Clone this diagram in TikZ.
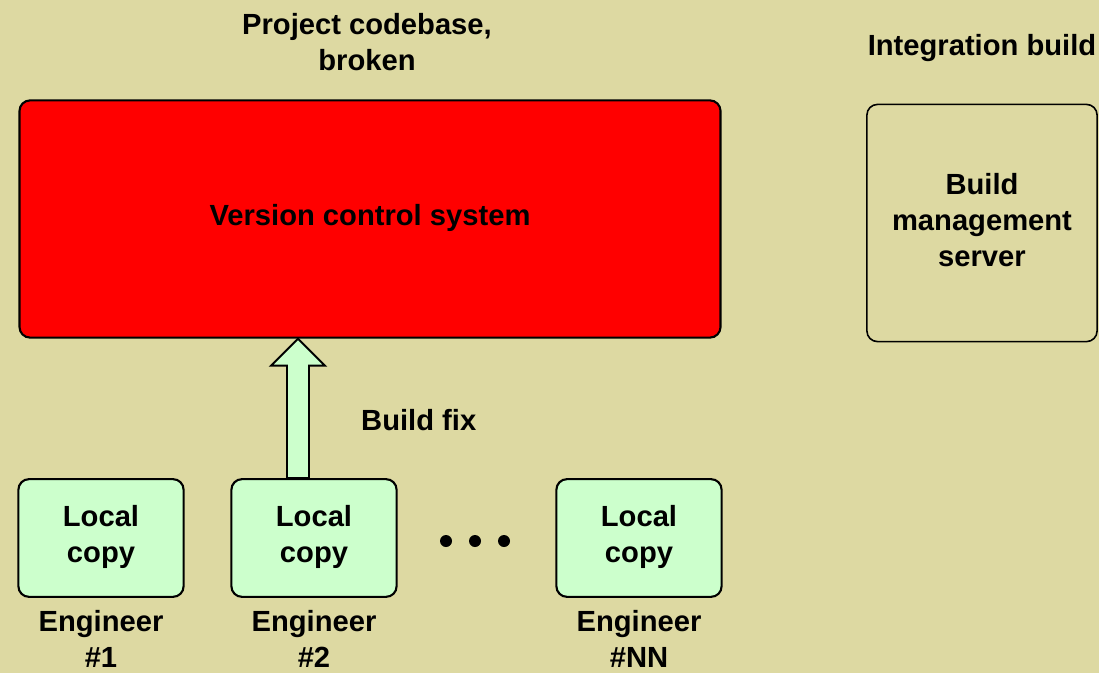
\documentclass[tikz,border=0pt]{standalone}
\usepackage{fontspec}
\setmainfont{Liberation Sans}
\usepackage{tikz}
\usetikzlibrary{calc}

\definecolor{paper}{RGB}{221,217,162}
\definecolor{copygreen}{RGB}{204,255,204}
\definecolor{vcsred}{RGB}{255,0,0}

\tikzset{
  lbl/.style={font=\fontsize{16.6}{20.4}\selectfont\bfseries, align=center, text=black},
  box/.style={draw=black, line width=1.2pt, rounded corners=6pt, inner sep=0pt},
  copybox/.style={box, fill=copygreen, minimum width=94pt, minimum height=67pt},
  fixarrow/.style={draw=black, line width=1.1pt, fill=copygreen, line join=miter}
}

\begin{document}
\begin{tikzpicture}[x=0.02cm, y=-0.02cm]
    % Background and page size
    \fill[paper] (0,0) rectangle (1099,673);
    \useasboundingbox (0,0) rectangle (1099,673);

    % Set the size of the dots
    \newcommand{\dotsize}{6}

    % Codebase on top
    \node [lbl] (title) at (367,42) {Project codebase,\\broken};
    \node [box, fill=vcsred, minimum width=399pt, minimum height=135pt] (vcs) at (370,219) {};
    \node [lbl] (vcslbl) at (370,218) {Version control system};

    % Integration build on the right
    \node [lbl] (intlbl) at (982,48) {Integration build};
    \node [box, line width=0.9pt, minimum width=131pt, minimum height=135pt] (bms) at (982,223) {};
    \node [lbl] (bmslbl) at (982,220) {Build\\management\\server};

    % Local copies of the engineers
    \foreach \x/\n/\eng in {101/1/\#1, 314/2/\#2, 639/3/\#NN}
    {
      \node [copybox] (l\n) at (\x,538) {};
      \node [lbl] (c\n) at (\x,537) {Local\\copy};
      \node [lbl, inner sep=1pt] (e\n) at (\x,639) {Engineer\\\eng};
    }

    % Dots between the copies
    \foreach \x [count=\i] in {446,475,504}
      \fill (\x,541) circle (\dotsize) coordinate (d\i);

    % Build fix arrow
    \coordinate (tail) at (l2.north -| 298,0);
    \coordinate (tip) at (vcs.south -| 298,0);
    \draw [fixarrow] ($(tail)+(-11,0)$) -- ($(tip)+(-11,27)$) -- ($(tip)+(-27,27)$)
      -- (tip) -- ($(tip)+(27,27)$) -- ($(tip)+(11,27)$) -- ($(tail)+(11,0)$) -- cycle;
    \node [lbl, anchor=west] (fixlbl) at (355,420) {Build fix};
\end{tikzpicture}
\end{document}
